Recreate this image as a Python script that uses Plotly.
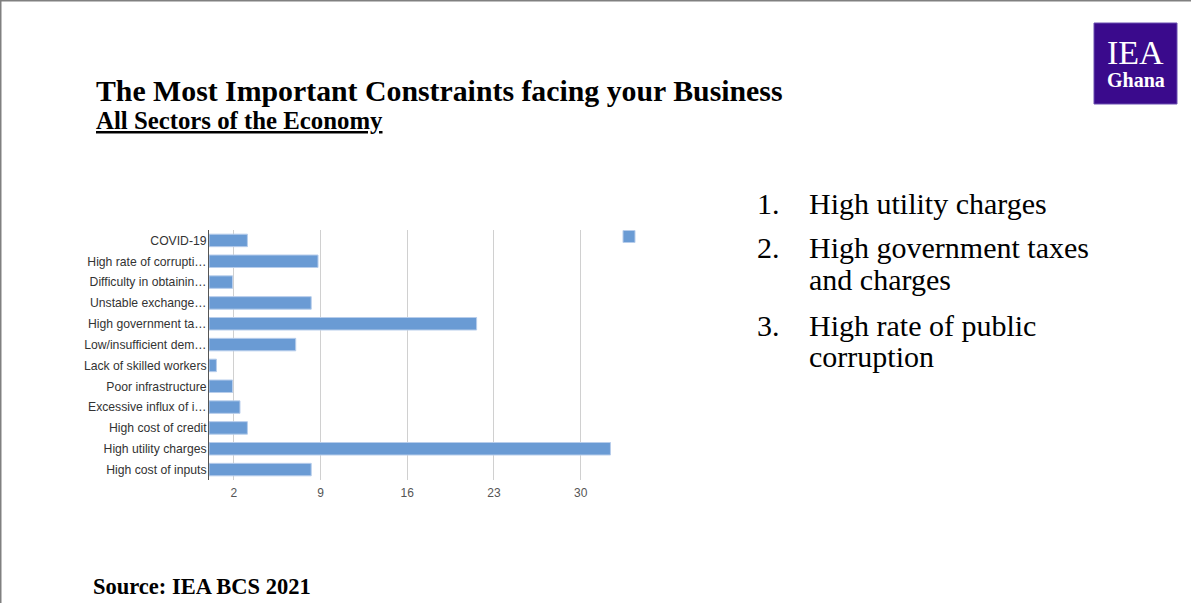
import plotly.graph_objects as go

W, H = 1191, 603

categories = [
    "High cost of inputs",
    "High utility charges",
    "High cost of credit",
    "Excessive influx of i…",
    "Poor infrastructure",
    "Lack of skilled workers",
    "Low/insufficient dem…",
    "High government ta…",
    "Unstable exchange…",
    "Difficulty in obtainin…",
    "High rate of corrupti…",
    "COVID-19",
]
values = [8.25, 32.4, 3.1, 2.5, 1.9, 0.6, 7.0, 21.6, 8.25, 1.9, 8.8, 3.1]
x_ticks = [2, 9, 16, 23, 30]

list_numbers = ["1.", "2.", "3."]
list_lines = [["High utility charges"],
              ["High government taxes", "and charges"],
              ["High rate of public", "corruption"]]

def px(x):
    return x / W

def py(y):
    return 1 - y / H

fig = go.Figure()
fig.add_trace(go.Bar(
    x=values, y=categories, orientation="h", name=" ",
    marker=dict(color="#6a9bd4", line=dict(color="#b7cdeb", width=1)),
    showlegend=True,
))

x_left, x_right = 209.0, 209.0 + 33 * 12.39
fig.update_layout(
    width=W, height=H,
    margin=dict(l=0, r=0, t=0, b=0),
    paper_bgcolor="white", plot_bgcolor="white",
    bargap=0.4,
    xaxis=dict(domain=[px(x_left), px(x_right)], range=[0, 33],
               tickvals=x_ticks, ticktext=[str(v) for v in x_ticks],
               showgrid=True, gridcolor="#d0d0d0", gridwidth=1,
               zeroline=False, showline=False, automargin=False,
               ticks="", ticklabelstandoff=4,
               tickfont=dict(family="Liberation Sans, Arial", size=12, color="#555555")),
    yaxis=dict(domain=[py(480), py(230)], showgrid=False, showline=True,
               linecolor="#555555", linewidth=1, automargin=False,
               ticks="", ticklabelstandoff=-1,
               tickfont=dict(family="Liberation Sans, Arial", size=12.2, color="#333333")),
    showlegend=True,
    legend=dict(x=px(609), y=py(222), xanchor="left", yanchor="top",
                bgcolor="rgba(0,0,0,0)", font=dict(size=12)),
)

serif = "Liberation Serif, Times New Roman, serif"
ann = []
ann.append(dict(text="<b>The Most Important Constraints facing your Business</b>",
                x=px(94), y=py(91), font=dict(family=serif, size=29.8, color="black")))
ann.append(dict(text="<b><u>All Sectors of the Economy</u></b>",
                x=px(94), y=py(121), font=dict(family=serif, size=24.8, color="black")))
ann.append(dict(text="<b>Source: IEA BCS 2021</b>",
                x=px(91), y=py(586), font=dict(family=serif, size=22.5, color="black")))

line_y = [[203], [247, 279], [325, 356]]
for num, lines, ys in zip(list_numbers, list_lines, line_y):
    ann.append(dict(text=num, x=px(755), y=py(ys[0]),
                    font=dict(family=serif, size=30, color="black")))
    for t, yy in zip(lines, ys):
        ann.append(dict(text=t, x=px(807), y=py(yy),
                        font=dict(family=serif, size=30, color="black")))

ann.append(dict(text="IEA", x=px(1135.5), y=py(52), xanchor="center",
                font=dict(family=serif, size=34, color="white")))
ann.append(dict(text="<b>Ghana</b>", x=px(1135.5), y=py(80), xanchor="center",
                font=dict(family=serif, size=20, color="white")))

for a in ann:
    a.setdefault("xanchor", "left")
    a.update(xref="paper", yref="paper", yanchor="middle", showarrow=False, align="left")
fig.update_layout(annotations=ann)

shapes = [
    dict(type="rect", xref="paper", yref="paper", x0=px(1094), x1=px(1177), y0=py(104), y1=py(23),
         fillcolor="#3a0a8c", line=dict(color="#6a4fb0", width=1), layer="below"),
    dict(type="line", xref="paper", yref="paper", x0=0, x1=1, y0=py(0.5), y1=py(0.5),
         line=dict(color="#808080", width=2)),
    dict(type="line", xref="paper", yref="paper", x0=px(0.5), x1=px(0.5), y0=0, y1=1,
         line=dict(color="#808080", width=2)),
]
fig.update_layout(shapes=shapes)

fig.write_html("out.html")
